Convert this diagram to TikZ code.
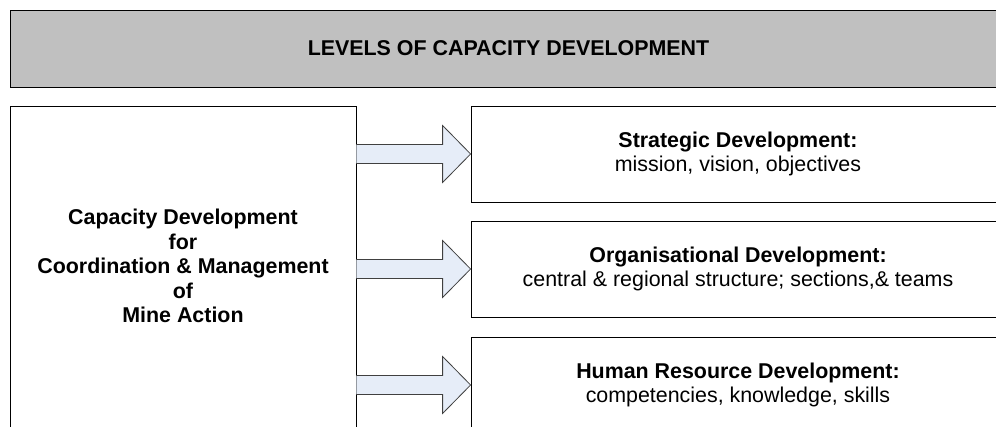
\documentclass[tikz,border=0pt]{standalone}
\usepackage{fontspec}
\setmainfont{Liberation Sans}
\usetikzlibrary{calc}

\definecolor{headgray}{HTML}{C0C0C0}
\definecolor{arrowblue}{HTML}{E6EDF8}

% block arrow from the side of box #1 to the west of box #2
\newcommand{\fatarrow}[2]{%
  \filldraw[fatarrowstyle] ($(#1.east |- #2.west)+(0,-9.5)$) -- ($(#2.west)+(-28,-9.5)$)
    -- ($(#2.west)+(-28,-28.5)$) -- (#2.west) -- ($(#2.west)+(-28,28.5)$)
    -- ($(#2.west)+(-28,9.5)$) -- ($(#1.east |- #2.west)+(0,9.5)$);
}

\begin{document}
\begin{tikzpicture}[x=1pt, y=-1pt]
        \tikzstyle{every node}=[font=\fontsize{21.4}{24.5}\selectfont, inner sep=0pt]
        \tikzstyle{box}=[draw=black, line width=0.8pt, fill=white, rectangle]
        \tikzstyle{headbox}=[box, fill=headgray, minimum width=997, minimum height=77]
        \tikzstyle{levelbox}=[box, minimum width=534, minimum height=96, align=center]
        \tikzstyle{fatarrowstyle}=[draw=black!75, line width=0.8pt, fill=arrowblue]
        \clip (0,0) rectangle (996,427);
        \fill[white] (0,0) rectangle (996,427);
        \node [headbox] (levels) at (508.5,48.5) {\bfseries LEVELS OF CAPACITY DEVELOPMENT};
        \node [box, minimum width=346, minimum height=340] (capdev) at (183,276) {};
        \node [align=center] (capdevtext) at (183,266) {\bfseries Capacity Development\\ \bfseries for\\ \bfseries Coordination \& Management\\ \bfseries of\\ \bfseries Mine Action};
        \node [levelbox] (strategic) at (738,154) {\bfseries Strategic Development:\\ mission, vision, objectives};
        \node [levelbox] (organisational) at (738,269) {\bfseries Organisational Development:\\ central \& regional structure; sections,\& teams};
        \node [levelbox] (human) at (738,385) {\bfseries Human Resource Development:\\ competencies, knowledge, skills};
        \fatarrow{capdev}{strategic}
        \fatarrow{capdev}{organisational}
        \fatarrow{capdev}{human}
    \end{tikzpicture}
\end{document}
